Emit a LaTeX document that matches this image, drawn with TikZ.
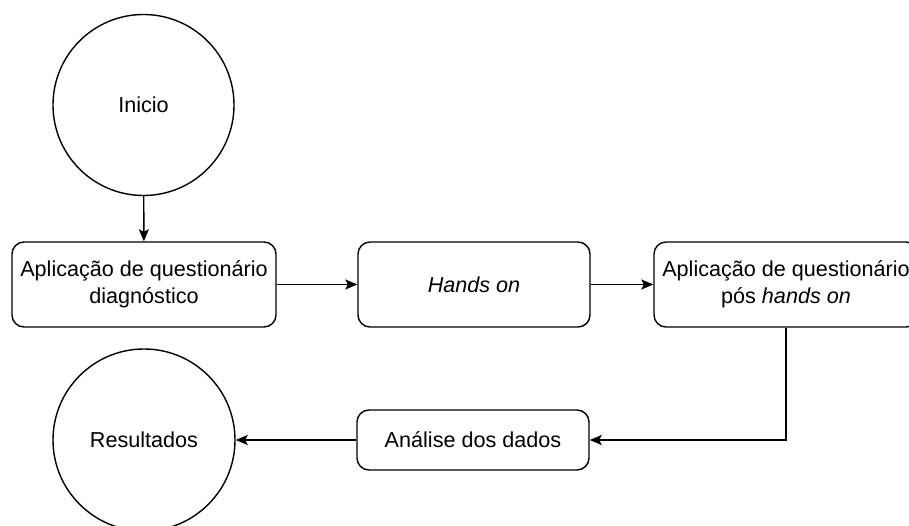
\documentclass[tikz,border=0pt]{standalone}
\usepackage{fontspec}
\setmainfont{Liberation Sans}
\usetikzlibrary{arrows.meta}
\begin{document}
\begin{tikzpicture}[x=1pt,y=-1pt,
  every node/.style={font=\fontsize{21.6}{27}\selectfont, text=black},
  stepbox/.style={draw, line width=1.4pt, rounded corners=12pt, minimum height=85pt, align=center, inner sep=2pt},
  roundnode/.style={draw, line width=1.4pt, circle, inner sep=0pt},
  conn/.style={line width=1.4pt, -{Stealth[length=12pt,width=10pt,inset=2.5pt]}}
]
\useasboundingbox (0,0) rectangle (909,526);
\clip (0,0) rectangle (909,526);
\node[roundnode, minimum size=181pt] (start) at (143.5,105) {Inicio};
\node[stepbox, minimum width=264pt] (b1) at (144,284.5) {Aplicação de questionário\\diagnóstico};
\node[stepbox, minimum width=232pt] (b2) at (474,284.5) {\textit{Hands on}};
\node[stepbox, minimum width=264pt] (b3) at (786,284.5) {Aplicação de questionário\\pós \textit{hands on}};
\node[stepbox, minimum width=232pt, minimum height=60pt] (b4) at (473,440) {Análise dos dados};
\node[roundnode, minimum size=182pt] (res) at (144,440) {Resultados};
\draw[conn] (start) -- (b1);
\draw[conn] (b1) -- (b2);
\draw[conn] (b2) -- (b3);
\draw[conn] (b3.south) |- (b4.east);
\draw[conn] (b4) -- (res);
\end{tikzpicture}
\end{document}
